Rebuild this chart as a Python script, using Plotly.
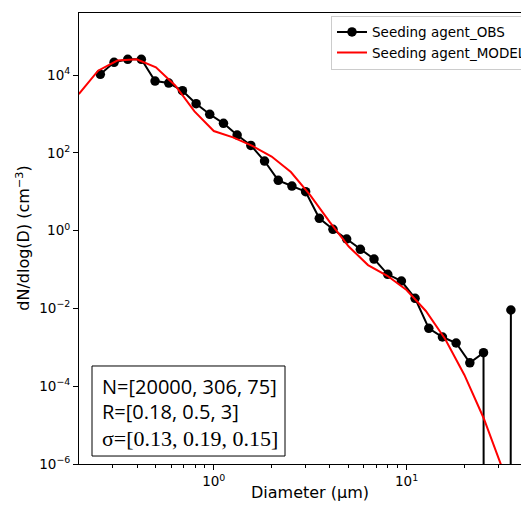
import plotly.graph_objects as go

# ---- data ----
obs_diameter = [0.258, 0.304, 0.358, 0.421, 0.496, 0.584, 0.688, 0.810, 0.953, 1.123,
                1.322, 1.557, 1.834, 2.160, 2.543, 2.995, 3.526, 4.152, 4.890, 5.758,
                6.780, 7.984, 9.402, 11.07, 13.04, 15.35, 18.07, 21.29, 25.06, 29.52, 34.76]
obs_dndlogd = [1.04e4, 2.12e4, 2.53e4, 2.53e4, 7.0e3, 6.2e3, 3.95e3, 1.83e3, 977, 573,
               287, 155, 61.5, 19.6, 14, 10, 2.07, 1.08, 0.608, 0.331,
               0.186, 0.0753, 0.0506, 0.0182, 0.00308, 0.00184, 0.00129, 0.000400, 0.000726, 0, 0.0091]

model_diameter = [0.1995, 0.2512, 0.3162, 0.3981, 0.5012, 0.6310, 0.7943, 1.0, 1.259, 1.585,
                  1.995, 2.512, 3.162, 3.981, 5.012, 6.310, 7.943, 10.0, 12.59, 15.85,
                  19.95, 25.12, 31.62, 39.81]
model_dndlogd = [3250, 12900, 23600, 25300, 15800, 5370, 1160, 363, 250, 150,
                 80.3, 32, 8.2, 1.70, 0.39, 0.13, 0.069, 0.0297, 0.0086, 0.00163,
                 1.95e-4, 1.5e-5, 7e-7, 2e-8]

x_tick_vals = [1, 10]
x_tick_text = ["10<sup>0</sup>", "10<sup>1</sup>"]
x_minor_vals = [0.3, 0.4, 0.5, 0.6, 0.7, 0.8, 0.9, 2, 3, 4, 5, 6, 7, 8, 9, 20, 30, 40]
y_tick_vals = [1e-6, 1e-4, 1e-2, 1, 1e2, 1e4]
y_tick_text = ["10<sup>\u22126</sup>", "10<sup>\u22124</sup>", "10<sup>\u22122</sup>",
               "10<sup>0</sup>", "10<sup>2</sup>", "10<sup>4</sup>"]

param_lines = ["N=[20000, 306, 75]", "R=[0.18, 0.5, 3]", "\u03c3=[0.13, 0.19, 0.15]"]

# zero counts fall to the bottom of a log axis (as in matplotlib)
obs_plot = [v if v > 0 else 1e-300 for v in obs_dndlogd]

FONT = "DejaVu Sans"

fig = go.Figure()
fig.add_trace(go.Scatter(
    x=obs_diameter, y=obs_plot, mode="lines+markers", name="Seeding agent_OBS",
    line=dict(color="black", width=2),
    marker=dict(color="black", size=9.5, symbol="circle"),
))
fig.add_trace(go.Scatter(
    x=model_diameter, y=model_dndlogd, mode="lines", name="Seeding agent_MODEL",
    line=dict(color="#ff0000", width=2),
))

# the page body adds an 8px offset, so the figure is 521x500 and sits at (8, 8)
fig.update_layout(
    width=521, height=500,
    margin=dict(l=71, r=0, t=5, b=44, autoexpand=False),
    plot_bgcolor="white", paper_bgcolor="white",
    font=dict(family=FONT, size=13, color="black"),
    showlegend=True,
    legend=dict(
        x=0.560, y=0.994, xanchor="left", yanchor="top",
        bgcolor="white", bordercolor="#cccccc", borderwidth=1,
        font=dict(family=FONT, size=13.5, color="black"),
        tracegroupgap=0,
    ),
    xaxis=dict(
        type="log", range=[-0.699, 1.635],
        tickmode="array", tickvals=x_tick_vals, ticktext=x_tick_text,
        ticks="outside", ticklen=5, tickwidth=1, tickcolor="black",
        showline=True, linecolor="black", linewidth=1, mirror=True,
        showgrid=False, zeroline=False,
        tickfont=dict(family=FONT, size=13.5, color="black"),
        minor=dict(tickvals=x_minor_vals, ticks="outside", ticklen=3,
                   tickwidth=1, tickcolor="black", showgrid=False),
    ),
    yaxis=dict(
        type="log", range=[-6, 5.594],
        tickmode="array", tickvals=y_tick_vals, ticktext=y_tick_text,
        ticks="outside", ticklen=5, tickwidth=1, tickcolor="black",
        showline=True, linecolor="black", linewidth=1, mirror=False,
        showgrid=False, zeroline=False,
        tickfont=dict(family=FONT, size=13.5, color="black"),
    ),
)

# axis titles
fig.add_annotation(xref="paper", yref="paper", x=0.5133, y=-0.0643,
                   text="Diameter (\u00b5m)", showarrow=False,
                   xanchor="center", yanchor="middle",
                   font=dict(family=FONT, size=16, color="black"))
fig.add_annotation(xref="paper", yref="paper", x=-0.124, y=0.5,
                   text="dN/dlog(D) (cm<sup>\u22123</sup>)", showarrow=False,
                   textangle=-90, xanchor="center", yanchor="middle",
                   font=dict(family=FONT, size=16, color="black"))

# parameter box
fig.add_shape(type="rect", xref="paper", yref="paper",
              x0=0.0289, x1=0.4578, y0=0.0177, y1=0.2173,
              line=dict(color="black", width=1), fillcolor="white", layer="above")
line_y = [0.1729, 0.1153, 0.0576]
line_fonts = [("Open Sans", 20), ("Open Sans", 20), ("Liberation Serif", 22)]
for txt, yy, (fam, sz) in zip(param_lines, line_y, line_fonts):
    fig.add_annotation(xref="paper", yref="paper", x=0.0467, y=yy, text=txt,
                       showarrow=False, xanchor="left", yanchor="middle",
                       font=dict(family=fam, size=sz, color="black"))

fig.write_html("out.html")
